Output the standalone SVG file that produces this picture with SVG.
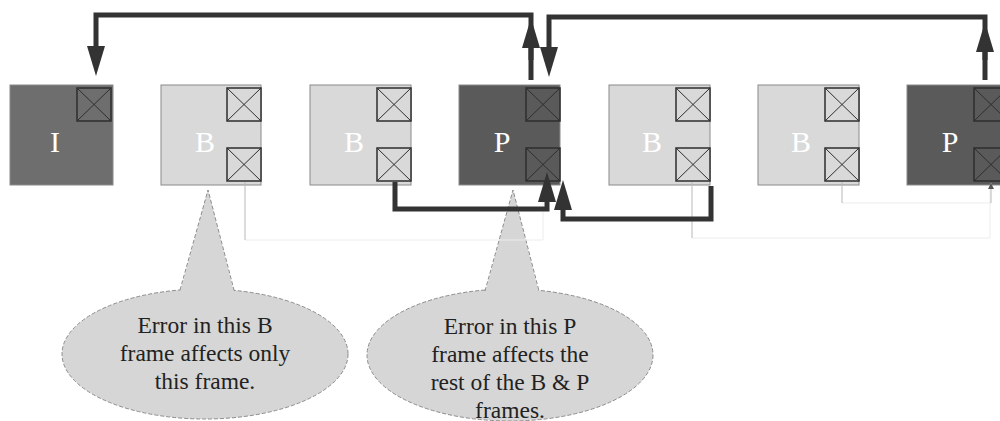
<svg xmlns="http://www.w3.org/2000/svg" width="1000" height="421" viewBox="0 0 1000 421">
<style>
.frm{stroke:#8a8a8a;stroke-width:1}
.fi{fill:#6e6e6e}
.fb{fill:#d9d9d9}
.fp{fill:#5a5a5a}
.box{stroke:#2e2e2e;stroke-width:1.5}
.x{stroke:#2e2e2e;stroke-width:1;fill:none}
.lbl{font-family:"Liberation Serif","Times New Roman",serif;font-size:30px;fill:#ffffff;text-anchor:middle}
.thick{fill:none;stroke:#333333;stroke-width:5}
.thin{fill:none;stroke:#b8b8b8;stroke-width:1}
.faint{fill:none;stroke:#ececec;stroke-width:1}
.bub{fill:#d6d6d6;stroke:#8c8c8c;stroke-width:1;stroke-dasharray:4 2}
.bubfill{fill:#d6d6d6;stroke:none}
.ctxt{font-family:"Liberation Serif","Times New Roman",serif;font-size:23.5px;fill:#222222;text-anchor:middle}
</style>
<defs>
<marker id="ah" viewBox="0 0 30 18" refX="20" refY="9" markerWidth="30" markerHeight="18" markerUnits="userSpaceOnUse" orient="auto">
<path d="M0,0 L30,9 L0,18 z" fill="#333333"/>
</marker>
<marker id="sh" viewBox="0 0 6 6" refX="6" refY="3" markerWidth="6" markerHeight="6" markerUnits="userSpaceOnUse" orient="auto">
<path d="M0,0 L6,3 L0,6 z" fill="#555555"/>
</marker>
<g id="xb">
<path class="x" d="M0,0 L34,33 M34,0 L0,33"/>
</g>
</defs>

<g id="callout-b">
<ellipse class="bub" cx="205" cy="354" rx="143" ry="65"/>
<path class="bubfill" d="M208,190 L180,292 L234,292 z"/>
<path class="bub" style="fill:none" d="M180,290 L208,190 L234,290"/>
<text class="ctxt" x="205" y="333">Error in this B</text>
<text class="ctxt" x="205" y="361">frame affects only</text>
<text class="ctxt" x="205" y="389">this frame.</text>
</g>

<g id="callout-p">
<ellipse class="bub" cx="510" cy="355" rx="143" ry="66"/>
<path class="bubfill" d="M513,190 L485,293 L539,293 z"/>
<path class="bub" style="fill:none" d="M485,291 L513,190 L539,291"/>
<text class="ctxt" x="510" y="334">Error in this P</text>
<text class="ctxt" x="510" y="362">frame affects the</text>
<text class="ctxt" x="510" y="390">rest of the B &amp; P</text>
<text class="ctxt" x="510" y="418">frames.</text>
</g>

<g id="frame-i">
<rect class="frm fi" x="10" y="85" width="103" height="100"/>
<rect class="box fi" x="77" y="88" width="34" height="33"/>
<use href="#xb" x="77" y="88"/>
<text class="lbl" x="55" y="152">I</text>
</g>
<g id="frame-b1">
<rect class="frm fb" x="161" y="85" width="100" height="100"/>
<rect class="box fb" x="227" y="88" width="34" height="33"/>
<use href="#xb" x="227" y="88"/>
<rect class="box fb" x="227" y="148" width="34" height="33"/>
<use href="#xb" x="227" y="148"/>
<text class="lbl" x="205" y="152">B</text>
</g>
<g id="frame-b2">
<rect class="frm fb" x="310" y="85" width="101" height="100"/>
<rect class="box fb" x="377" y="88" width="34" height="33"/>
<use href="#xb" x="377" y="88"/>
<rect class="box fb" x="377" y="148" width="34" height="33"/>
<use href="#xb" x="377" y="148"/>
<text class="lbl" x="354" y="152">B</text>
</g>
<g id="frame-p1">
<rect class="frm fp" x="459" y="85" width="101" height="100"/>
<rect class="box fp" x="526" y="88" width="34" height="33"/>
<use href="#xb" x="526" y="88"/>
<rect class="box fp" x="526" y="148" width="34" height="33"/>
<use href="#xb" x="526" y="148"/>
<text class="lbl" x="502" y="152">P</text>
</g>
<g id="frame-b3">
<rect class="frm fb" x="609" y="85" width="101" height="100"/>
<rect class="box fb" x="676" y="88" width="34" height="33"/>
<use href="#xb" x="676" y="88"/>
<rect class="box fb" x="676" y="148" width="34" height="33"/>
<use href="#xb" x="676" y="148"/>
<text class="lbl" x="652" y="152">B</text>
</g>
<g id="frame-b4">
<rect class="frm fb" x="758" y="85" width="101" height="100"/>
<rect class="box fb" x="825" y="88" width="34" height="33"/>
<use href="#xb" x="825" y="88"/>
<rect class="box fb" x="825" y="148" width="34" height="33"/>
<use href="#xb" x="825" y="148"/>
<text class="lbl" x="801" y="152">B</text>
</g>
<g id="frame-p2">
<rect class="frm fp" x="907" y="85" width="101" height="100"/>
<rect class="box fp" x="974" y="88" width="34" height="33"/>
<use href="#xb" x="974" y="88"/>
<rect class="box fp" x="974" y="148" width="34" height="33"/>
<use href="#xb" x="974" y="148"/>
<text class="lbl" x="950" y="152">P</text>
</g>

<g id="connectors">
<path class="faint" d="M245,240 H543 V186"/>
<path class="thin" d="M245,240 V182"/>
<path class="faint" d="M692,238 H990 V186"/>
<path class="thin" d="M692,238 V182"/>
<path class="faint" d="M842,203 H991"/>
<path class="thin" d="M842,203 V182"/>
<path class="thin" d="M991,203 V183" marker-end="url(#sh)"/>
<path class="thick" d="M531,80 V15 H96 V66" marker-end="url(#ah)"/>
<path class="thick" d="M531,60 V28" marker-end="url(#ah)"/>
<path class="thick" d="M985,80 V17 H549 V67" marker-end="url(#ah)"/>
<path class="thick" d="M985,60 V32" marker-end="url(#ah)"/>
<path class="thick" d="M395,182 V209 H547 V182" marker-end="url(#ah)"/>
<path class="thick" d="M711,186 V219 H563 V190" marker-end="url(#ah)"/>
</g>
</svg>
